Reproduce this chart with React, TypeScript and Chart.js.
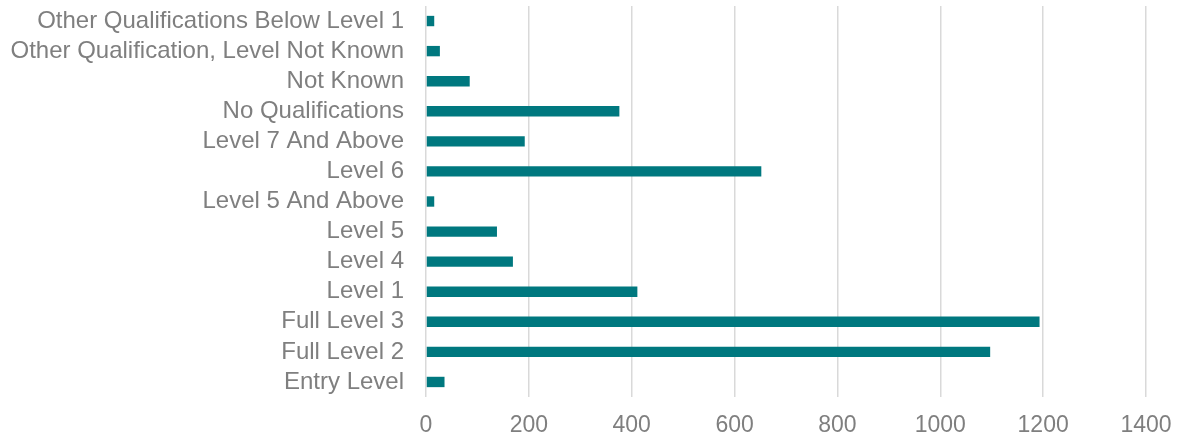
import React, { useEffect, useRef } from "react";
import { Chart, registerables } from "chart.js";

Chart.register(...registerables);

const categories: string[] = [
  "Other Qualifications Below Level 1",
  "Other Qualification, Level Not Known",
  "Not Known",
  "No Qualifications",
  "Level 7 And Above",
  "Level 6",
  "Level 5 And Above",
  "Level 5",
  "Level 4",
  "Level 1",
  "Full Level 3",
  "Full Level 2",
  "Entry Level",
];

const values: number[] = [16, 27, 85, 376, 192, 652, 16, 138, 169, 411, 1193, 1097, 36];

const xMin = 0;
const xMax = 1400;
const xStep = 200;

const BAR_COLOR = "#00787f";
const TEXT_COLOR = "#7f7f7f";
const GRID_COLOR = "#d9d9d9";
const FONT_FAMILY = "'Liberation Sans', Arial, sans-serif";

export default function App() {
  const canvasRef = useRef<HTMLCanvasElement | null>(null);

  useEffect(() => {
    if (!canvasRef.current) return;
    const chart = new Chart(canvasRef.current, {
      type: "bar",
      data: {
        labels: categories,
        datasets: [
          {
            data: values,
            backgroundColor: BAR_COLOR,
            borderWidth: 0,
            barPercentage: 0.345,
            categoryPercentage: 1,
          },
        ],
      },
      options: {
        indexAxis: "y",
        animation: false,
        responsive: true,
        maintainAspectRatio: false,
        layout: { padding: { top: 6, right: 35, bottom: 0, left: 0 } },
        plugins: {
          legend: { display: false },
          tooltip: { enabled: false },
        },
        scales: {
          x: {
            min: xMin,
            max: xMax,
            ticks: {
              stepSize: xStep,
              color: TEXT_COLOR,
              font: { family: FONT_FAMILY, size: 23 },
              padding: 15,
              maxRotation: 0,
              callback: (v: any) => String(v),
            },
            grid: {
              color: GRID_COLOR,
              lineWidth: 1.5,
              drawTicks: false,
            },
            border: { display: false },
            afterFit: (scale: any) => {
              scale.height = 45;
              scale.paddingLeft = 0;
              scale.paddingRight = 0;
            },
          },
          y: {
            ticks: {
              color: TEXT_COLOR,
              font: { family: FONT_FAMILY, size: 24 },
              padding: 22,
              autoSkip: false,
            },
            grid: { display: false, drawTicks: false },
            border: { display: false },
            afterFit: (scale: any) => {
              scale.width = 426;
              scale.paddingTop = 0;
              scale.paddingBottom = 0;
            },
          },
        },
      },
    });
    return () => chart.destroy();
  }, []);

  return (
    <div
      style={{
        position: "fixed",
        left: 0,
        top: 0,
        width: 1181,
        height: 442,
        background: "#ffffff",
      }}
    >
      <canvas ref={canvasRef} />
    </div>
  );
}
